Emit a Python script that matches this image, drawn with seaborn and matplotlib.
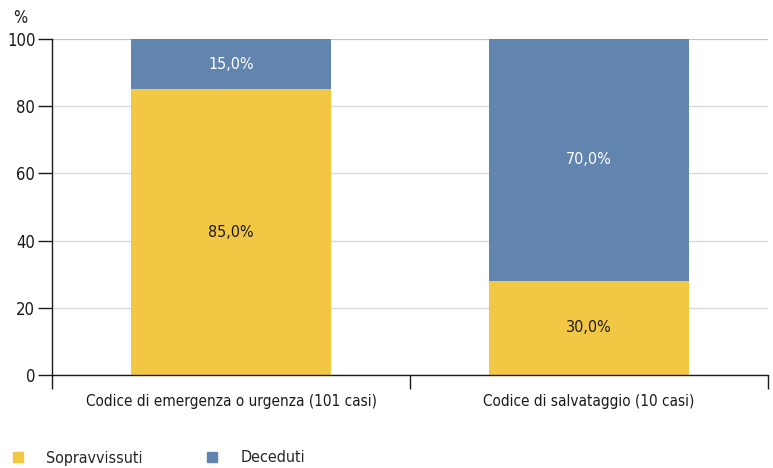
import matplotlib.pyplot as plt
import numpy as np
import pandas as pd
import seaborn as sns
from matplotlib.lines import Line2D

categorie = ['Codice di emergenza o urgenza (101 casi)', 'Codice di salvataggio (10 casi)']
sopravvissuti = [85, 28]
deceduti = [15, 72]
etichette_sopr = ['85,0%', '30,0%']
etichette_dec = ['15,0%', '70,0%']

giallo = '#F2C744'
blu = '#6285B0'

sns.set_theme(style='white')
plt.rcParams['font.family'] = ['DejaVu Sans']
plt.rcParams['font.stretch'] = 'condensed'

df = pd.DataFrame({'categoria': categorie,
                   'sopravvissuti': sopravvissuti,
                   'deceduti': deceduti})
df['totale'] = df['sopravvissuti'] + df['deceduti']

fig = plt.figure(figsize=(7.73, 4.68), dpi=100)
ax = fig.add_axes([0.0673, 0.1987, 0.9262, 0.718])

sns.barplot(data=df, x='categoria', y='totale', color=blu, width=0.56,
            saturation=1, ax=ax, zorder=3, linewidth=0)
sns.barplot(data=df, x='categoria', y='sopravvissuti', color=giallo, width=0.56,
            saturation=1, ax=ax, zorder=3, linewidth=0)

for i in range(len(df)):
    s = df['sopravvissuti'][i]
    d = df['deceduti'][i]
    ax.text(i, s / 2, etichette_sopr[i], ha='center', va='center',
            fontsize=11.5, color='#1a1a1a', zorder=4)
    ax.text(i, s + d / 2, etichette_dec[i], ha='center', va='center',
            fontsize=11.5, color='white', zorder=4)

ax.set_xlim(-0.5, 1.5)
ax.set_ylim(0, 100)
ax.set_yticks([0, 20, 40, 60, 80, 100])
ax.yaxis.grid(True, color='#d9d9d9', linewidth=1, zorder=0)
ax.set_xlabel('')
ax.set_ylabel('')
ax.set_xticks([0, 1])
ax.set_xticklabels(categorie, fontsize=11)
ax.set_xticks([-0.5, 0.5, 1.5], minor=True)
ax.tick_params(axis='x', which='major', length=0, pad=14, colors='#1a1a1a')
ax.tick_params(axis='x', which='minor', length=10, width=1, color='#1a1a1a',
               direction='out', bottom=True)
ax.tick_params(axis='y', length=10, width=1, color='#1a1a1a', direction='out',
               left=True, labelsize=12, pad=2, labelcolor='#1a1a1a')

for side in ['top', 'right']:
    ax.spines[side].set_visible(False)
for side in ['left', 'bottom']:
    ax.spines[side].set_color('#1a1a1a')
    ax.spines[side].set_linewidth(1)
    ax.spines[side].set_zorder(5)

ax.axhline(100, color='#bbbbbb', linewidth=1.2, zorder=2)

fig.text(13 / 773, 1 - 18 / 468, '%', fontsize=12, ha='left', va='center',
         color='#1a1a1a')

handles = [Line2D([], [], marker='s', linestyle='none', markersize=7,
                  color=giallo, label='Sopravvissuti'),
           Line2D([], [], marker='s', linestyle='none', markersize=7,
                  color=blu, label='Deceduti')]
fig.legend(handles=handles, loc='center left', bbox_to_anchor=(0.0, 1 - 458 / 468),
           ncol=2, frameon=False, fontsize=11.5, handletextpad=1.0,
           columnspacing=3.6, borderaxespad=0, handlelength=1.5)

fig.savefig('out.png', dpi=100)
